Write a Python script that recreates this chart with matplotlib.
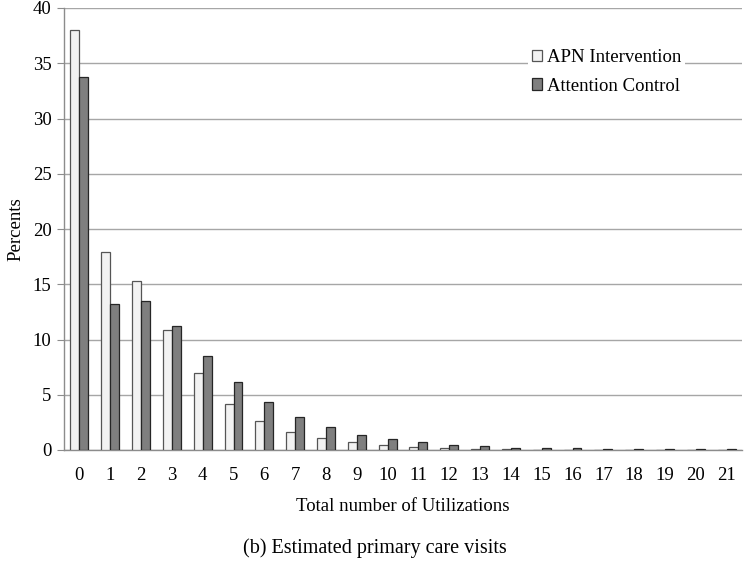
import numpy as np
import matplotlib.pyplot as plt

plt.rcParams["font.family"] = ["Liberation Serif", "DejaVu Serif"]

utilizations = list(range(22))
apn_intervention = [38.0, 17.9, 15.3, 10.9, 6.95, 4.2, 2.6, 1.6, 1.05, 0.7, 0.45,
                    0.3, 0.15, 0.1, 0.05, 0.03, 0.02, 0.01, 0.0, 0.0, 0.0, 0.0]
attention_control = [33.8, 13.25, 13.5, 11.2, 8.5, 6.15, 4.3, 3.0, 2.05, 1.4, 1.0,
                     0.7, 0.45, 0.35, 0.22, 0.2, 0.14, 0.12, 0.06, 0.06, 0.06, 0.06]
series_labels = ["APN Intervention", "Attention Control"]
y_ticks = [0, 5, 10, 15, 20, 25, 30, 35, 40]

fig = plt.figure(figsize=(7.5, 5.64), dpi=100)
ax = fig.add_axes([64 / 750, 1 - 450 / 564, (742 - 64) / 750, (450 - 8) / 564])

x = np.arange(len(utilizations))
w = 0.29
ax.bar(x - w / 2, apn_intervention, width=w, color="#f2f2f2", edgecolor="#555555",
       linewidth=0.9, label=series_labels[0], zorder=3)
ax.bar(x + w / 2, attention_control, width=w, color="#7f7f7f", edgecolor="#262626",
       linewidth=0.9, label=series_labels[1], zorder=3)

ax.set_xlim(-0.5, len(utilizations) - 0.5)
ax.set_ylim(0, 40)
ax.set_yticks(y_ticks)
ax.set_xticks(x)
ax.set_xticklabels([str(u) for u in utilizations])
ax.yaxis.grid(True, color="#a6a6a6", linewidth=1.0, zorder=0)
ax.set_axisbelow(True)
for side in ["top", "right"]:
    ax.spines[side].set_visible(False)
for side in ["left", "bottom"]:
    ax.spines[side].set_color("#8c8c8c")
    ax.spines[side].set_linewidth(1.0)
ax.tick_params(axis="y", length=5, color="#8c8c8c", labelsize=13.5, pad=4)
ax.tick_params(axis="x", length=0, labelsize=13.5, pad=12)
ax.set_ylabel("Percents", fontsize=13.5, labelpad=6)
ax.set_xlabel("Total number of Utilizations", fontsize=13.5, labelpad=10)

leg = ax.legend(loc="upper left", bbox_to_anchor=(0.685, 0.915), frameon=True,
                fontsize=13.5, handlelength=0.55, handleheight=0.55, handletextpad=0.25,
                labelspacing=0.6, borderpad=0.2, borderaxespad=0)
leg.get_frame().set_facecolor("white")
leg.get_frame().set_edgecolor("none")
leg.get_frame().set_alpha(1)

fig.text(0.5, 1 - 548 / 564, "(b) Estimated primary care visits", ha="center",
         va="center", fontsize=14.5)

fig.savefig("out.png", dpi=100)
